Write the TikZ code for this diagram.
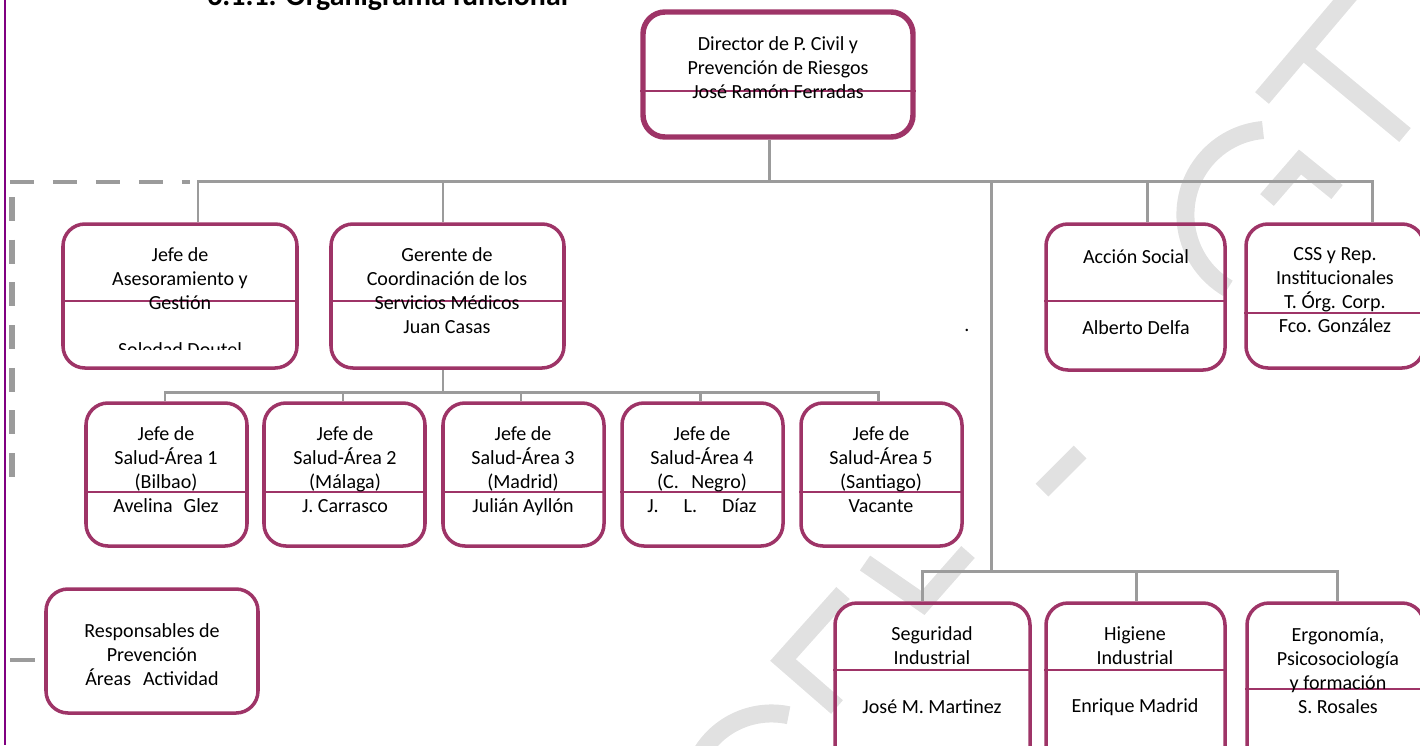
\documentclass[tikz,border=0pt]{standalone}
\usepackage{fontspec}
\setmainfont{Carlito}
\usetikzlibrary{fit}

\definecolor{boxmaroon}{RGB}{158,52,103}
\definecolor{wiregray}{RGB}{155,155,155}
\definecolor{stampgray}{RGB}{225,225,225}
\definecolor{edgepurple}{RGB}{128,0,128}

\tikzset{
  orgbox/.style={draw=boxmaroon, line width=2pt, rounded corners=0.44cm, inner sep=0pt},
  headbox/.style={orgbox, line width=3.1pt},
  divider/.style={draw=boxmaroon, line width=1.4pt},
  wire/.style={draw=wiregray, line width=1.7pt},
  dashwire/.style={draw=wiregray, line width=2.8pt, dash pattern=on 0.48cm off 0.38cm},
  stamp/.style={draw=stampgray, line width=0.36cm},
  label/.style={align=center, inner sep=0pt, font=\fontsize{11.4}{13.66}\selectfont,
    execute at begin node=\strut, execute at end node=\strut},
}

\begin{document}
\begin{tikzpicture}[x=0.02cm, y=-0.02cm]
  %%%%% FRAME %%%%%
  \useasboundingbox (0,0) rectangle (1420,745);
  \clip (0,0) rectangle (1420,745);

  %%%%% WATERMARK %%%%%
  \draw[stamp] (1350,-6) -- (1262,98);
  \draw[stamp] (1305,52) -- (1405,135);
  \draw[stamp] (1263,130) arc (265:120:85);
  \draw[stamp] (1267,200) -- (1300,162) -- (1337,192);
  \draw[stamp] (1042,490) -- (1080,452);
  \draw[stamp] (968,552) -- (923,603) -- (865,563);
  \draw[stamp] (843,593) -- (783,660) -- (837,707);
  \draw[stamp] (702,752) arc (212:282:82);

  %%%%% TITLE AND EDGE %%%%%
  \node[anchor=base west, inner sep=0pt, font=\fontsize{17}{20}\bfseries\selectfont] (title) at (207,5) {6.1.1. Organigrama funcional};
  \draw[edgepurple, line width=1.2pt] (5,0) -- (5,745);

  %%%%% BOXES %%%%%
  \node[headbox, fit={(643,12) (913,137)}] (dir) {};
  \node[orgbox, fit={(63,224) (297,368)}] (ase) {};
  \node[orgbox, fit={(331,224) (564,368)}] (ger) {};
  \node[orgbox, fit={(1046,224) (1225,370)}] (acc) {};
  \node[orgbox, fit={(1246,224) (1424,368)}] (css) {};
  \node[orgbox, fit={(86,403) (247,546)}] (area1) {};
  \node[orgbox, fit={(264,403) (425,546)}] (area2) {};
  \node[orgbox, fit={(443,403) (604,546)}] (area3) {};
  \node[orgbox, fit={(622,403) (783,546)}] (area4) {};
  \node[orgbox, fit={(801,403) (962,546)}] (area5) {};
  \node[orgbox, fit={(46,589) (258,713)}] (resp) {};
  \node[orgbox, fit={(835,603) (1030,770)}] (seg) {};
  \node[orgbox, fit={(1046,603) (1225,770)}] (hig) {};
  \node[orgbox, fit={(1247,603) (1424,770)}] (erg) {};

  % dividers
  \draw[divider] (dir.west |- 0,91) -- (dir.east |- 0,91);
  \draw[divider] (ase.west |- 0,301) -- (ase.east |- 0,301);
  \draw[divider] (ger.west |- 0,301) -- (ger.east |- 0,301);
  \draw[divider] (acc.west |- 0,301) -- (acc.east |- 0,301);
  \draw[divider] (css.west |- 0,313) -- (css.east |- 0,313);
  \draw[divider] (area1.west |- 0,492) -- (area1.east |- 0,492);
  \draw[divider] (area2.west |- 0,492) -- (area2.east |- 0,492);
  \draw[divider] (area3.west |- 0,492) -- (area3.east |- 0,492);
  \draw[divider] (area4.west |- 0,492) -- (area4.east |- 0,492);
  \draw[divider] (area5.west |- 0,492) -- (area5.east |- 0,492);
  \draw[divider] (seg.west |- 0,670) -- (seg.east |- 0,670);
  \draw[divider] (hig.west |- 0,670) -- (hig.east |- 0,670);
  \draw[divider] (erg.west |- 0,689) -- (erg.east |- 0,689);

  %%%%% TEXTS %%%%%
  \node[label] (dir-t) at (778,71) {Director de P. Civil y\\Prevención de Riesgos\\José Ramón Ferradas};
  \node[label] (ase-t) at (180,282) {Jefe de\\Asesoramiento y\\Gestión};
  \begin{scope}
    \clip (63,224) rectangle (297,349);
    \node[label] (ase-n) at (180,352) {Soledad Doutel};
  \end{scope}
  \node[label] (ger-t) at (447,294) {Gerente de\\Coordinación de los\\Servicios Médicos\\Juan Casas};
  \node[label] (acc-t) at (1136,259) {Acción Social};
  \node[label] (acc-n) at (1136,330) {Alberto Delfa};
  \node[label] (css-t) at (1335,294) {CSS y Rep.\\Institucionales\\T. Órg. Corp.\\Fco. González};
  \node[label] (area1-t) at (166,473) {Jefe de\\Salud-Área 1\\(Bilbao)\\Avelina\hspace{0.22cm}Glez};
  \node[label] (area2-t) at (345,473) {Jefe de\\Salud-Área 2\\(Málaga)\\J. Carrasco};
  \node[label] (area3-t) at (523,473) {Jefe de\\Salud-Área 3\\(Madrid)\\Julián Ayllón};
  \node[label] (area4-t) at (702,473) {Jefe de\\Salud-Área 4\\(C.\hspace{0.25cm}Negro)\\J.\hspace{0.5cm}L.\hspace{0.5cm}Díaz};
  \node[label] (area5-t) at (881,473) {Jefe de\\Salud-Área 5\\(Santiago)\\Vacante};
  \node[label] (resp-t) at (152,658) {Responsables de\\Prevención\\Áreas\hspace{0.24cm}Actividad};
  \node[label] (seg-t) at (932,649) {Seguridad\\Industrial};
  \node[label] (seg-n) at (932,709) {José M. Martinez};
  \node[label] (hig-t) at (1135,649) {Higiene\\Industrial};
  \node[label] (hig-n) at (1135,708) {Enrique Madrid};
  \node[label] (erg-t) at (1338,674) {Ergonomía,\\Psicosociología\\y formación\\S. Rosales};
  \node[label] (dot) at (967,327) {.};

  %%%%% CONNECTORS %%%%%
  \coordinate (j-top) at (769,181);
  \coordinate (j-ase) at (198,181);
  \coordinate (j-ger) at (443,181);
  \coordinate (j-mid) at (991,181);
  \coordinate (j-acc) at (1147,181);
  \coordinate (j-css) at (1372,181);
  \draw[wire] (dir.south -| j-top) -- (j-top);
  \draw[wire] (ase.north -| j-ase) |- (j-css) -- (css.north -| j-css);
  \draw[wire] (j-ger) -- (ger.north -| j-ger);
  \draw[wire] (j-acc) -- (acc.north -| j-acc);

  \coordinate (s-ger) at (443,392);
  \coordinate (s1) at (165,392);
  \coordinate (s2) at (343,392);
  \coordinate (s3) at (521,392);
  \coordinate (s4) at (700,392);
  \coordinate (s5) at (878,392);
  \draw[wire] (ger.south -| s-ger) -- (s-ger);
  \draw[wire] (area1.north -| s1) |- (s5) -- (area5.north -| s5);
  \draw[wire] (s2) -- (area2.north -| s2);
  \draw[wire] (s3) -- (area3.north -| s3);
  \draw[wire] (s4) -- (area4.north -| s4);

  \coordinate (t-seg) at (922,571);
  \coordinate (t-hig) at (1136,571);
  \coordinate (t-erg) at (1337,571);
  \draw[wire] (j-mid) -- (j-mid |- t-seg);
  \draw[wire] (seg.north -| t-seg) |- (t-erg) -- (erg.north -| t-erg);
  \draw[wire] (t-hig) -- (hig.north -| t-hig);

  % dashed left links
  \coordinate (d-left) at (10,182);
  \coordinate (d-right) at (190,182);
  \coordinate (d-top) at (12,197);
  \coordinate (d-bot) at (12,478);
  \coordinate (r-stub) at (10,660);
  \draw[dashwire] (d-left) -- (d-right);
  \draw[dashwire, line width=3pt, dash pattern=on 0.48cm off 0.374cm] (d-top) -- (d-bot);
  \draw[wire, line width=2.8pt] (r-stub) -- ++(25,0);
\end{tikzpicture}
\end{document}
